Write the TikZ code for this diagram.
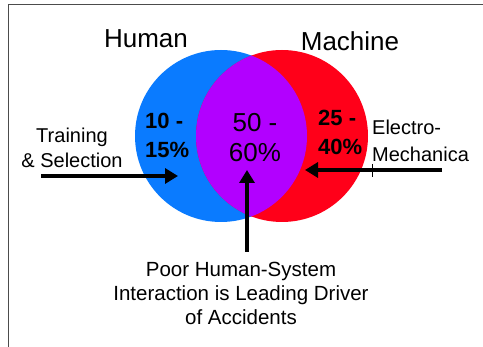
\documentclass[tikz,border=0pt]{standalone}
\usepackage{fontspec}
\setmainfont{Liberation Sans}
\usetikzlibrary{arrows.meta}
\definecolor{humanblue}{RGB}{10, 123, 255}
\definecolor{machinered}{RGB}{255, 0, 25}
\definecolor{overlappurple}{RGB}{178, 0, 255}

\begin{document}
\begin{tikzpicture}[x=1pt, y=-1pt,
        pointer/.style={line width=3.5pt, -{Triangle[length=13pt, width=15pt]}},
        setdisc/.style={circle, minimum size=172pt, inner sep=0pt},
        setname/.style={inner sep=0pt, anchor=base, font=\fontsize{26}{30}\selectfont},
        share/.style={inner sep=0pt, anchor=north west, align=left, font=\bfseries\fontsize{22}{29}\selectfont},
        cause/.style={inner sep=0pt, font=\fontsize{20}{25}\selectfont}]
        \useasboundingbox (0,0) rectangle (483,347);

        % Frame
        \draw[line width=1pt, black!70] (8.5,347) -- (8.5,5) -- (483,5);

        % Sets
        \node[setdisc, fill=humanblue] (human) at (221,136) {};
        \node[setdisc, fill=machinered] (machine) at (282,136) {};
        \begin{scope}
            \clip (human.center) circle (86pt);
            \fill[overlappurple] (machine.center) circle (86pt);
        \end{scope}

        \node[setname] (humanname) at (146,48) {Human};
        \node[setname] (machinename) at (350,51) {Machine};

        % Shares of accidents
        \node[share] (humanshare) at (145,113) {10 -\\15\%};
        \node[share] (machineshare) at (318,110) {25 -\\40\%};
        \node[inner sep=0pt, anchor=north, align=center, font=\fontsize{26}{30}\selectfont] (bothshare) at (255,113) {50 -\\60\%};

        % Causes
        \node[cause, anchor=north, align=center] (training) at (72,128) {Training\\\& Selection};
        \node[cause, anchor=north west, align=left, font=\fontsize{20}{27}\selectfont] (electro) at (372,120) {Electro-\\Mechanica};
        \node[cause, anchor=north, align=center, font=\fontsize{20.5}{24}\selectfont] (interaction) at (241,262) {Poor Human-System\\Interaction is Leading Driver\\of Accidents};

        % Pointers
        \foreach \name/\xa/\ya/\xb/\yb in {train/41/176/178/176, electro/442/170/305/170, interaction/247/252/247/170} {
            \coordinate (\name start) at (\xa,\ya);
            \coordinate (\name tip) at (\xb,\yb);
            \draw[pointer] (\name start) -- (\name tip);
        }

        \draw[line width=0.8pt] (372,164) -- (372,177);
    \end{tikzpicture}
\end{document}
